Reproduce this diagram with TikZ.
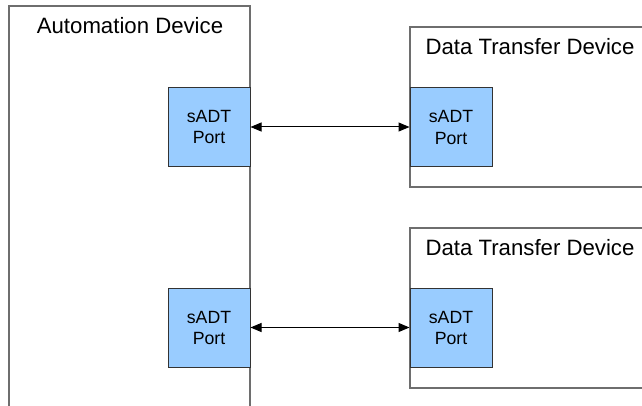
\documentclass[tikz,border=0pt]{standalone}
\usepackage{fontspec}
\setmainfont{Liberation Sans}
\usepackage{color}
\usetikzlibrary{arrows.meta}

\definecolor{portblue}{HTML}{99CCFF}
\definecolor{devline}{HTML}{6E6E6E}
\definecolor{portline}{HTML}{333333}

\tikzset{
  device/.style={rectangle, draw=devline, line width=0.8pt, minimum width=120.5pt},
  devtitle/.style={anchor=base, inner sep=0pt, font=\fontsize{11.1}{13}\selectfont},
  port/.style={rectangle, draw=portline, line width=0.5pt, fill=portblue, minimum width=41pt, minimum height=39.5pt, align=center, font=\fontsize{8.85}{10.5}\selectfont},
  link/.style={{Triangle[length=5.5pt,width=4.5pt]}-{Triangle[length=5.5pt,width=4.5pt]}, line width=0.5pt, black}
}

\begin{document}
\begin{tikzpicture}[x=0.5pt, y=-0.5pt]

\useasboundingbox (0,0) rectangle (642,406);
\clip (0,0) rectangle (642,406);

% automation device, runs off the bottom edge
\node(auto) [device, minimum height=210pt] at (129.5,216) {};
\node(autotitle) [devtitle] at (130,34) {Automation Device};

% data transfer devices, run off the right edge
\node(dtd1) [device, minimum height=80pt] at (530.5,107) {};
\node(dtd1title) [devtitle] at (530,55) {Data Transfer Device};
\node(dtd2) [device, minimum height=80pt] at (530.5,308) {};
\node(dtd2title) [devtitle] at (530,256) {Data Transfer Device};

% ports
\node(aport1) [port] at (209,127) {sADT\\Port};
\node(aport2) [port] at (209,327.5) {sADT\\Port};
\node(dport1) [port] at (451,127.5) {sADT\\Port};
\node(dport2) [port] at (451,327.5) {sADT\\Port};

\draw[link] (aport1.east) -- (dport1.west |- aport1.east);
\draw[link] (aport2.east) -- (dport2.west);

\end{tikzpicture}
\end{document}
